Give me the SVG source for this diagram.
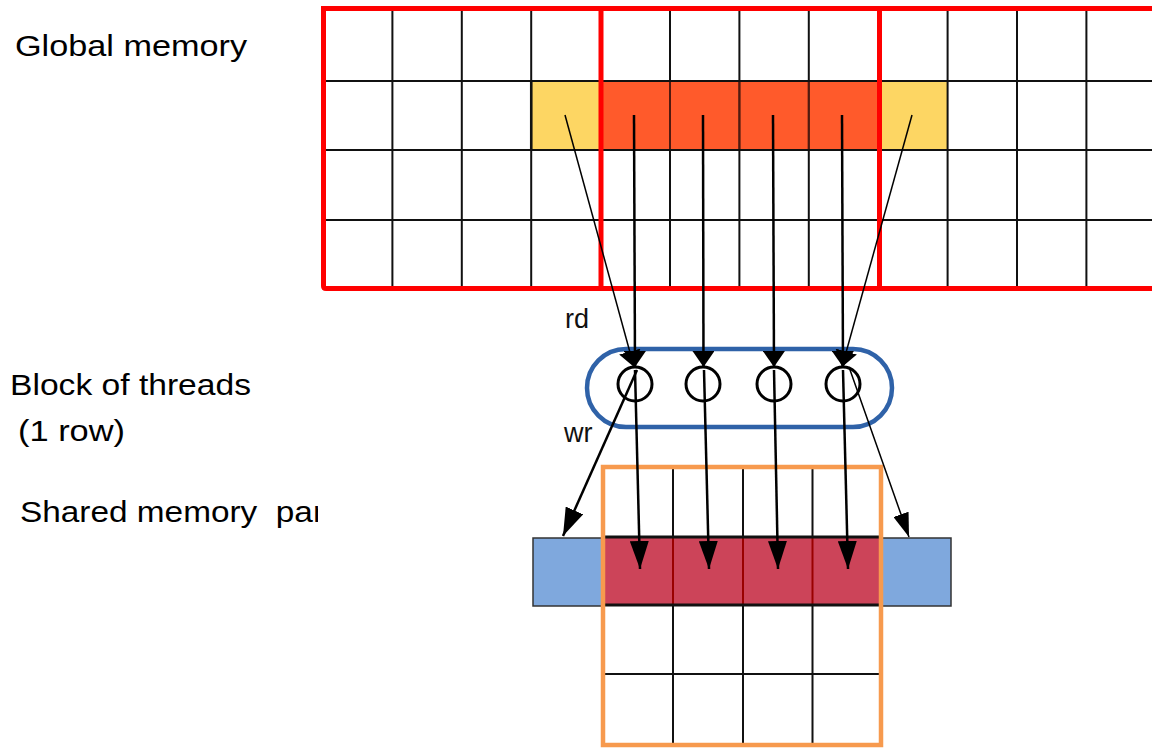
<svg xmlns="http://www.w3.org/2000/svg" width="1152" height="749" viewBox="0 0 1152 749">
<defs>
<style>
.lbl{font-family:"Liberation Sans",Arial,sans-serif;font-size:30px;fill:#000}
.sm{font-family:"Liberation Sans",Arial,sans-serif;font-size:27px;fill:#111}
.grid{stroke:#111;stroke-width:2;fill:none}
.red{stroke:#f00;stroke-width:5;fill:none}
.arr{stroke:#000;fill:none}
</style>
<marker id="hs" viewBox="0 0 16 22" refX="16" refY="11" markerWidth="16" markerHeight="22" markerUnits="userSpaceOnUse" orient="auto"><path d="M0,0 L16,11 L0,22 z" fill="#000"/></marker>
<marker id="hl" viewBox="0 0 28 19" refX="28" refY="9.5" markerWidth="28" markerHeight="19" markerUnits="userSpaceOnUse" orient="auto"><path d="M0,0 L28,9.5 L0,19 z" fill="#000"/></marker>
<marker id="hm" viewBox="0 0 24 16" refX="24" refY="8" markerWidth="24" markerHeight="16" markerUnits="userSpaceOnUse" orient="auto"><path d="M0,0 L24,8 L0,16 z" fill="#000"/></marker>
<clipPath id="cl"><rect x="0" y="480" width="318" height="60"/></clipPath>
</defs>
<rect width="1152" height="749" fill="#fff"/>

<g id="labels">
<text class="lbl" x="15" y="56" textLength="232" lengthAdjust="spacingAndGlyphs">Global memory</text>
<text class="lbl" x="10" y="395" textLength="241" lengthAdjust="spacingAndGlyphs">Block of threads</text>
<text class="lbl" x="18" y="441" textLength="107" lengthAdjust="spacingAndGlyphs">(1 row)</text>
<text class="lbl" x="20" y="522" xml:space="preserve" textLength="304" lengthAdjust="spacingAndGlyphs" clip-path="url(#cl)">Shared memory  par</text>
<text class="sm" x="565" y="328">rd</text>
<text class="sm" x="564" y="442">wr</text>
</g>

<g id="global-memory">
<rect x="531.2" y="81" width="69.4" height="69" fill="#fdd663"/>
<rect x="878.2" y="81" width="69.4" height="69" fill="#fdd663"/>
<rect x="601" y="81" width="278" height="69" fill="#ff5a2b"/>
<g class="grid">
<path d="M392.4 10V288M461.8 10V288M531.2 10V288M670 10V288M739.4 10V288M808.8 10V288M947.6 10V288M1017 10V288M1086.4 10V288"/>
<path d="M323 81H1152M323 150H1152M323 220H1152"/>
</g>
<path d="M670 81V150M739.4 81V150M808.8 81V150" stroke="#7a2010" stroke-width="2" opacity="0.6"/>
<rect x="602" y="81" width="276" height="69" fill="none" stroke="#111" stroke-width="2"/>
<path d="M531.2 81V150" stroke="#111" stroke-width="2.5"/>
<g class="red">
<path d="M1160 8.5H323.5Q323.5 8.5 323.5 11V286Q323.5 288.5 326 288.5H1160"/>
<path d="M601 8.5V288.5M879.5 8.5V288.5"/>
</g>
</g>

<g id="thread-block">
<rect x="587" y="349" width="305" height="78" rx="39" ry="39" fill="none" stroke="#2f62a8" stroke-width="4.5"/>
<g fill="none" stroke="#000" stroke-width="3">
<circle cx="635" cy="384" r="17"/>
<circle cx="703" cy="384" r="17"/>
<circle cx="774" cy="384" r="17"/>
<circle cx="843" cy="384" r="17"/>
</g>
</g>

<g id="shared-memory">
<rect x="533" y="538" width="70" height="68" fill="#7fa8dd" stroke="#333" stroke-width="1.5"/>
<rect x="882" y="538" width="69" height="68" fill="#7fa8dd" stroke="#333" stroke-width="1.5"/>
<rect x="603" y="536" width="278" height="69" fill="#cc4459"/>
<g class="grid">
<path d="M673 467V536M743 467V536M812.5 467V536M673 605V745M743 605V745M812.5 605V745"/>
<path d="M603 674H882"/>
</g>
<path d="M673 536V605M743 536V605M812.5 536V605" stroke="#9a0000" stroke-width="2"/>
<path d="M603 537H881M603 605H881" stroke="#111" stroke-width="3"/>
<rect x="603" y="467" width="278" height="278" fill="none" stroke="#f79a4e" stroke-width="4.5"/>
</g>

<g id="connectors" class="arr">
<line x1="565" y1="115" x2="634" y2="367" stroke-width="1.5" marker-end="url(#hs)"/>
<line x1="634" y1="115" x2="635" y2="367" stroke-width="2.5" marker-end="url(#hs)"/>
<line x1="703" y1="115" x2="703.5" y2="367" stroke-width="2.5" marker-end="url(#hs)"/>
<line x1="773" y1="115" x2="774" y2="367" stroke-width="2.5" marker-end="url(#hs)"/>
<line x1="842" y1="115" x2="843" y2="367" stroke-width="2.5" marker-end="url(#hs)"/>
<line x1="912" y1="115" x2="842" y2="367" stroke-width="1.5" marker-end="url(#hs)"/>
<line x1="635" y1="370" x2="640" y2="569" stroke-width="2.5" marker-end="url(#hl)"/>
<line x1="704" y1="370" x2="709" y2="569" stroke-width="2.5" marker-end="url(#hl)"/>
<line x1="774" y1="370" x2="778" y2="569" stroke-width="2.5" marker-end="url(#hl)"/>
<line x1="843" y1="370" x2="848" y2="569" stroke-width="2.5" marker-end="url(#hl)"/>
<line x1="637" y1="370" x2="563" y2="536" stroke-width="2.5" marker-end="url(#hl)"/>
<line x1="849" y1="367" x2="909" y2="537" stroke-width="1.5" marker-end="url(#hm)"/>
</g>
</svg>
